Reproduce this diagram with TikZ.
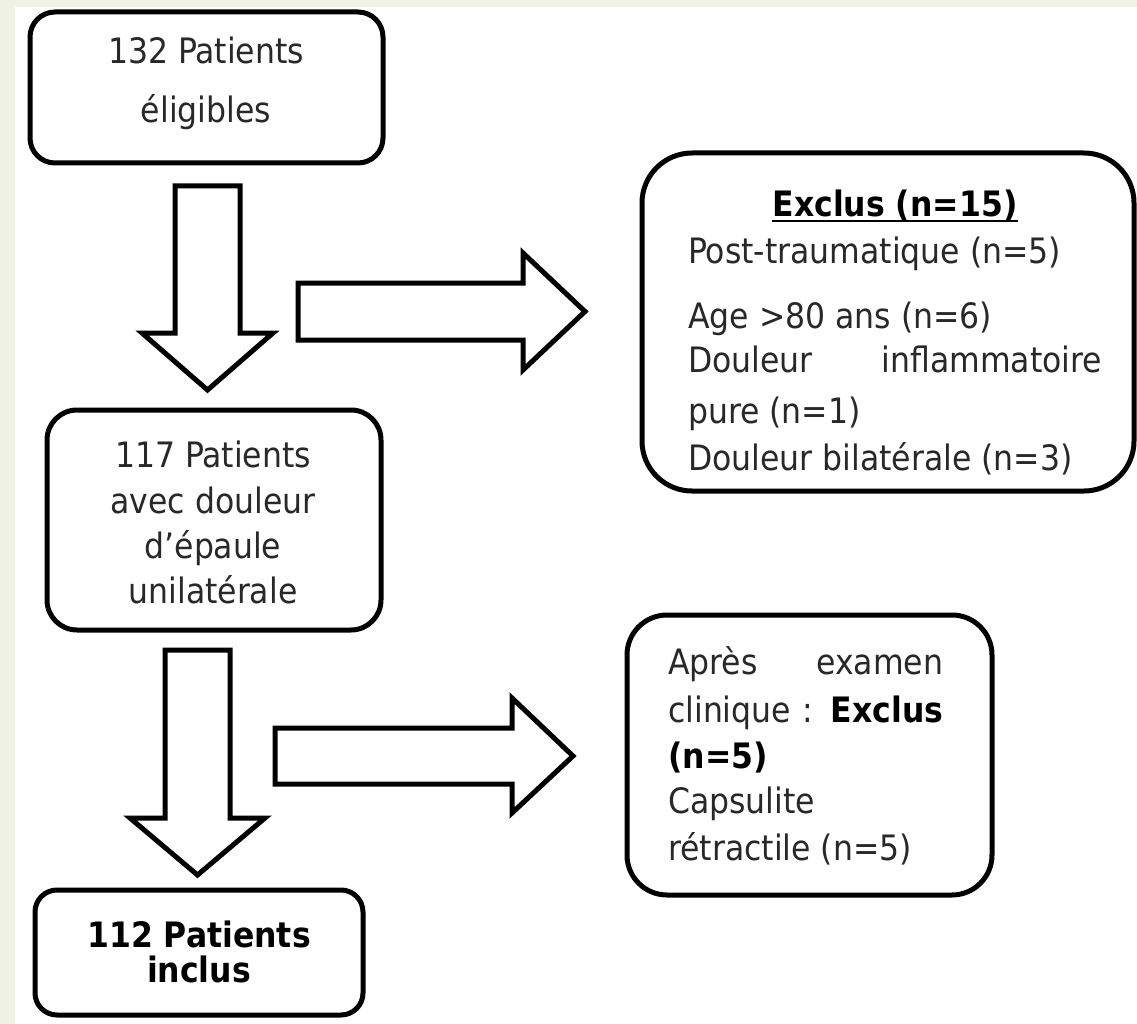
\documentclass[tikz,border=0pt]{standalone}
\usepackage{fontspec}
\setmainfont{DejaVu Sans Condensed}
\definecolor{bggreen}{RGB}{239,242,229}
\definecolor{txtgray}{RGB}{40,40,40}
\begin{document}
\begin{tikzpicture}[x=1pt,y=-1pt,
  box/.style={draw=black,line width=5pt,fill=white,inner sep=0pt},
  blockarrow/.style={draw=black,line width=5pt,fill=white,line join=miter},
  txt/.style={inner sep=0pt,text=txtgray,font=\fontsize{35}{42}\selectfont},
  btxt/.style={inner sep=0pt,text=black,font=\fontsize{35}{42}\selectfont\bfseries}]
\useasboundingbox (0,0) rectangle (1137,1024);
\fill[bggreen] (0,0) rectangle (1137,1024);
\fill[white] (15,7) rectangle (1137,1024);

% boxes
\node[box,minimum width=353pt,minimum height=151pt,rounded corners=25pt] (b1) at (206.5,87.5) {};
\node[box,minimum width=334pt,minimum height=220pt,rounded corners=30pt] (b2) at (214,520) {};
\node[box,minimum width=328pt,minimum height=125pt,rounded corners=22pt] (b3) at (199,952.5) {};
\node[box,minimum width=492pt,minimum height=338pt,rounded corners=50pt] (ex1) at (888,322) {};
\node[box,minimum width=365pt,minimum height=280pt,rounded corners=40pt] (ex2) at (809.5,755) {};

% block arrows
\draw[blockarrow] (175,186) -- (240,186) -- (240,333) -- (273,333) -- (207.5,390) -- (142,333) -- (175,333) -- cycle;
\draw[blockarrow] (298,283) -- (523,283) -- (523,253) -- (585,311.5) -- (523,370) -- (523,340) -- (298,340) -- cycle;
\draw[blockarrow] (165,650) -- (230,650) -- (230,818) -- (265,818) -- (197.5,875) -- (130,818) -- (165,818) -- cycle;
\draw[blockarrow] (275,728) -- (512,728) -- (512,698) -- (573,756) -- (512,813) -- (512,784) -- (275,784) -- cycle;

% box 1
\node[txt,anchor=base] (t11) at (206,64) {132 Patients};
\node[txt,anchor=base] (t12) at (206,123) {éligibles};
% box 2
\node[txt,anchor=base] (t21) at (213,467) {117 Patients};
\node[txt,anchor=base] (t22) at (213,513) {avec douleur};
\node[txt,anchor=base] (t23) at (213,558) {d’épaule};
\node[txt,anchor=base] (t24) at (213,603) {unilatérale};
% box 3
\node[btxt,anchor=base] (t31) at (199,947) {112 Patients};
\node[btxt,anchor=base] (t32) at (199,982) {inclus};
% exclus box
\node[btxt,anchor=base] (e0) at (895,217) {Exclus (n=15)};
\draw[black,line width=2pt] ([yshift=-4pt]e0.base west) -- ([yshift=-4pt]e0.base east);
\node[txt,anchor=base west] (e1) at (688,263) {Post-traumatique (n=5)};
\node[txt,anchor=base west] (e2) at (688,328) {Age >80 ans (n=6)};
\node[txt,anchor=base west] (e3) at (688,372) {\makebox[414pt][s]{Douleur inflammatoire}};
\node[txt,anchor=base west] (e4) at (688,423) {pure (n=1)};
\node[txt,anchor=base west] (e5) at (688,470) {Douleur bilatérale (n=3)};
% apres box
\node[txt,anchor=base west] (a1) at (668,674) {\makebox[275pt][s]{Après examen}};
\node[txt,anchor=base west] (a2) at (668,722) {\makebox[275pt][s]{clinique\ : \textbf{\color{black}Exclus}}};
\node[btxt,anchor=base west] (a3) at (668,768) {(n=5)};
\node[txt,anchor=base west] (a4) at (668,813) {Capsulite};
\node[txt,anchor=base west] (a5) at (668,860) {rétractile (n=5)};
\end{tikzpicture}
\end{document}
